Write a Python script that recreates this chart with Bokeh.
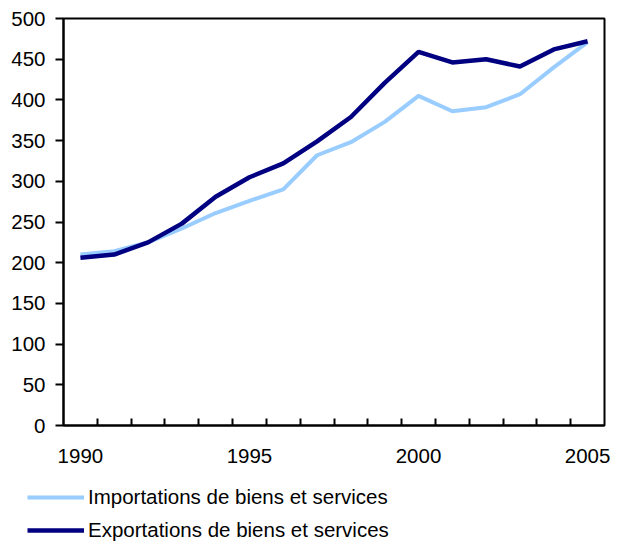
from bokeh.plotting import figure
from bokeh.models import FixedTicker, Legend, LegendItem, Range1d
from bokeh.embed import file_html
from bokeh.resources import INLINE

years = list(range(1990, 2006))
imports = [210, 214, 225, 242, 261, 276, 290, 332, 348, 373, 405, 386, 391, 407, 440, 471]
exports = [206, 210, 225, 248, 281, 305, 322, 349, 379, 421, 459, 446, 450, 441, 462, 472]
year_labels = [1990, 1995, 2000, 2005]
y_ticks = list(range(0, 501, 50))
names = ["Importations de biens et services", "Exportations de biens et services"]
colors = ["#99CCFF", "#000080"]

FONT = "Liberation Sans"
FSIZE = "20.5px"

p = figure(width=618, height=476, output_backend="svg", toolbar_location=None,
           x_range=Range1d(1989.5, 2005.5), y_range=Range1d(0, 500),
           min_border_left=63, min_border_right=14, min_border_top=18, min_border_bottom=51)
p.grid.visible = False
p.outline_line_color = "black"
p.outline_line_width = 2
p.background_fill_color = "white"
p.border_fill_color = "white"

p.line(years, imports, line_color=colors[0], line_width=4)
p.line(years, exports, line_color=colors[1], line_width=4.5)

xa = p.xaxis[0]
xa.ticker = FixedTicker(ticks=year_labels, minor_ticks=[y + 0.5 for y in years[:-1]])
xa.major_tick_in = 0
xa.major_tick_out = 0
xa.minor_tick_in = 7
xa.minor_tick_out = 0
xa.minor_tick_line_width = 2
xa.minor_tick_line_color = "black"
xa.axis_line_width = 2
xa.axis_line_color = "black"
xa.major_label_standoff = 23
xa.major_label_text_font = FONT
xa.major_label_text_font_size = FSIZE
xa.major_label_text_color = "black"

ya = p.yaxis[0]
ya.ticker = FixedTicker(ticks=y_ticks)
ya.minor_tick_line_color = None
ya.major_tick_in = 0
ya.major_tick_out = 8
ya.major_tick_line_width = 2
ya.major_tick_line_color = "black"
ya.axis_line_width = 2
ya.axis_line_color = "black"
ya.major_label_standoff = 10
ya.major_label_text_font = FONT
ya.major_label_text_font_size = FSIZE
ya.major_label_text_color = "black"

# legend strip below the chart (series drawn outside its visible range)
q = figure(width=618, height=66, output_backend="svg", toolbar_location=None,
           x_axis_location=None, y_axis_location=None,
           x_range=Range1d(0, 1), y_range=Range1d(0, 1),
           min_border_left=0, min_border_right=0, min_border_top=0, min_border_bottom=0)
q.grid.visible = False
q.outline_line_color = None
q.border_fill_color = "white"
q.background_fill_color = "white"
k_imp = q.line(years, imports, line_color=colors[0], line_width=4)
k_exp = q.line(years, exports, line_color=colors[1], line_width=4.5)

legend = Legend(items=[LegendItem(label=names[0], renderers=[k_imp]),
                       LegendItem(label=names[1], renderers=[k_exp])],
                location=(27, 0), orientation="vertical",
                label_text_font=FONT, label_text_font_size=FSIZE, label_text_color="black",
                glyph_width=57, glyph_height=24, label_height=24, spacing=9,
                label_standoff=4, padding=0, margin=0,
                border_line_color=None, background_fill_alpha=0)
q.add_layout(legend, "center")

open("out.html", "w").write(file_html([p, q], INLINE))
